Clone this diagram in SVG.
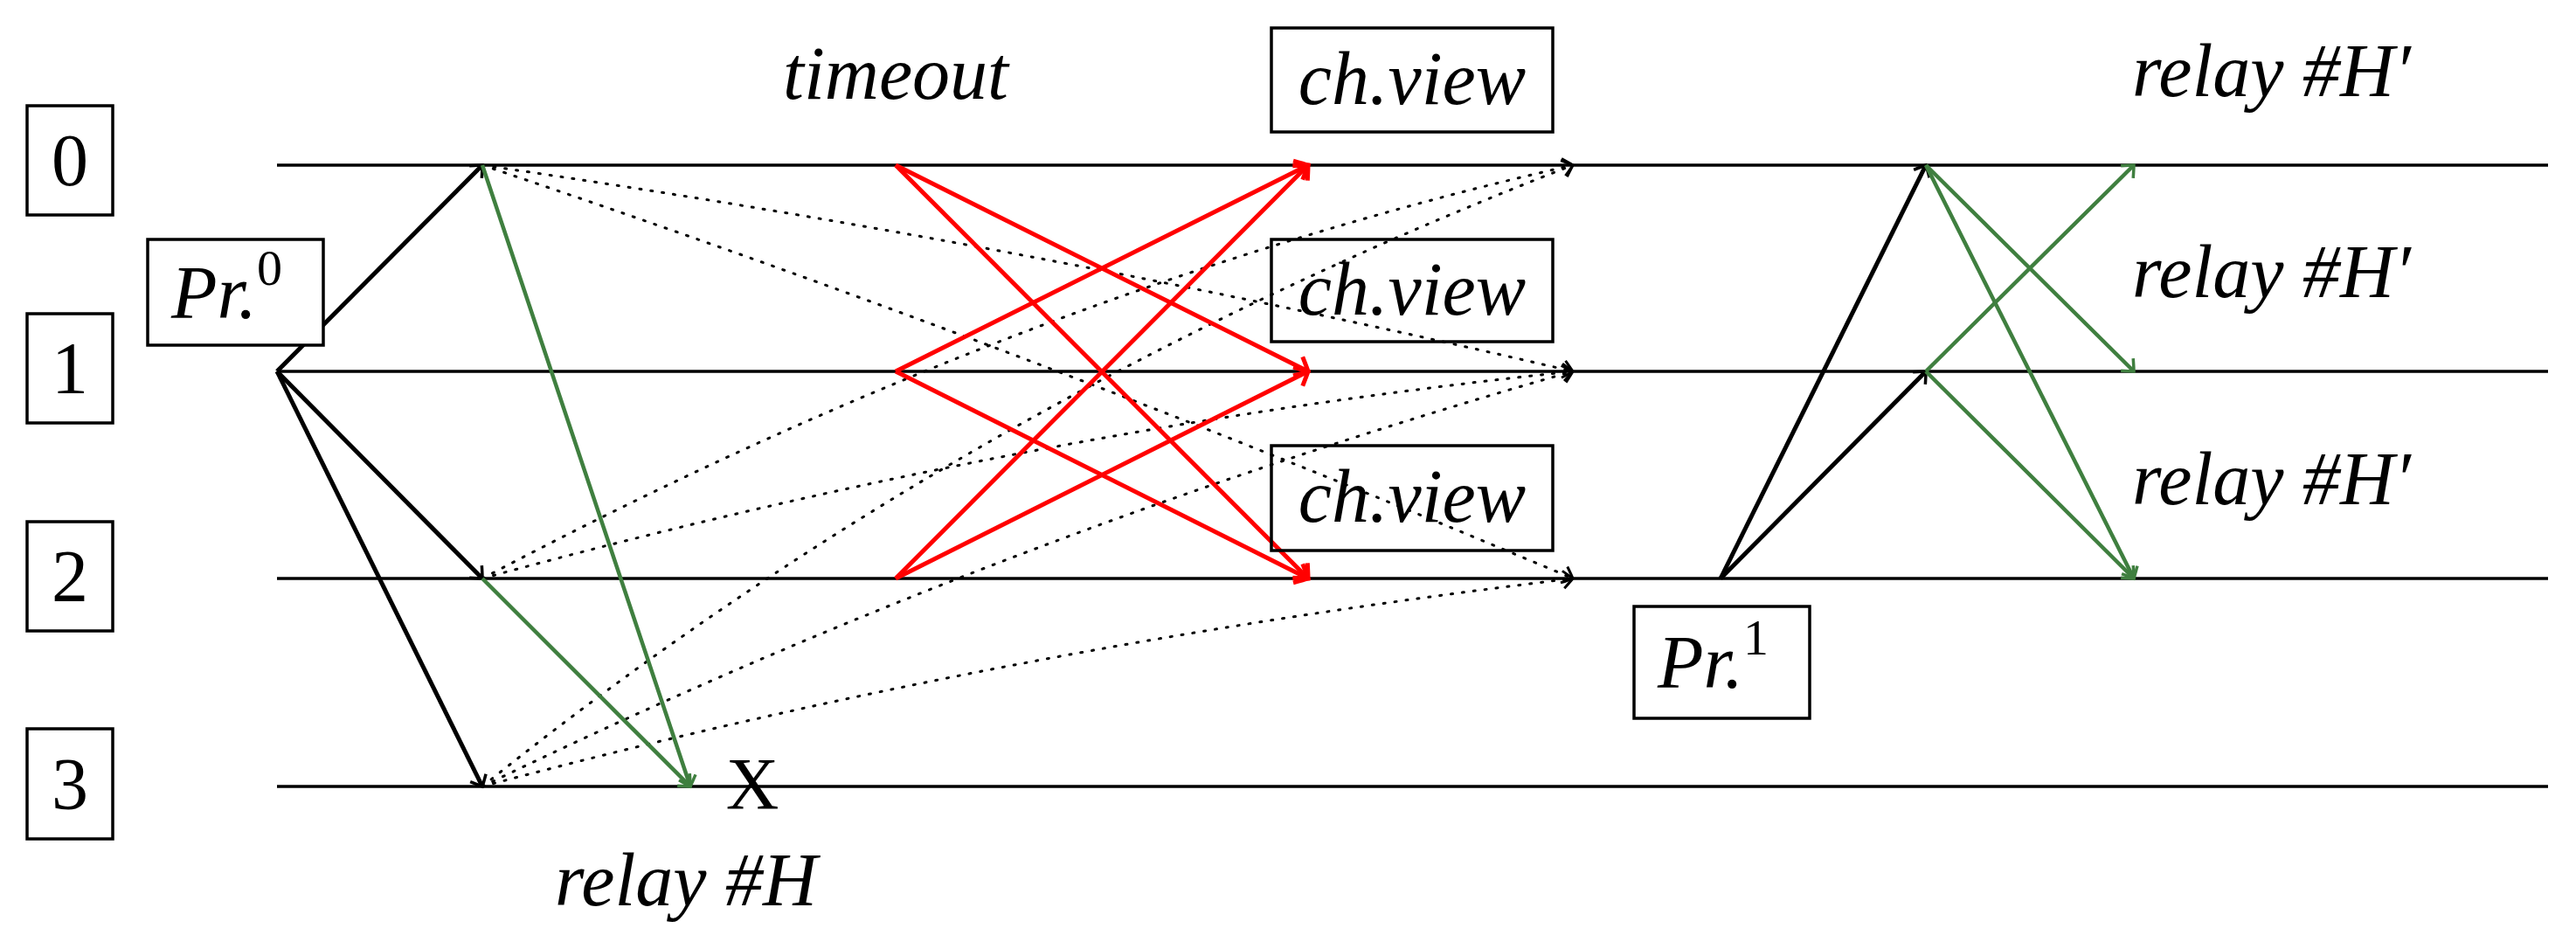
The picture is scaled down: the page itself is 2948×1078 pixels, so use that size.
<svg xmlns="http://www.w3.org/2000/svg" width="2948" height="1078" viewBox="0 0 2948 1078">
<style>
.ln{stroke:#000;stroke-width:3.5;fill:none}
.bx{fill:#fff;stroke:#000;stroke-width:3.5}
.t{font-family:"Liberation Serif","DejaVu Serif",serif;font-size:86px;font-style:italic;fill:#000}
.n{font-family:"Liberation Serif","DejaVu Serif",serif;font-size:84px;fill:#000}
.bk{stroke:#000;stroke-width:5;fill:none;marker-end:url(#ab)}
.gr{stroke:#3f7f3f;stroke-width:4.5;fill:none;marker-end:url(#ag)}
.rd{stroke:#ff0000;stroke-width:5;fill:none;marker-end:url(#ar)}
.dt{stroke:#000;stroke-width:3;stroke-dasharray:2 11;stroke-linecap:round;fill:none;marker-end:url(#ad)}
</style>
<defs>
<marker id="ab" viewBox="-14 -14 28 28" markerWidth="28" markerHeight="28" refX="0" refY="0" orient="auto" markerUnits="userSpaceOnUse"><path d="M-11,-10 Q-3,-3 0,0 Q-3,3 -11,10" fill="none" stroke="#000" stroke-width="3.5"/></marker>
<marker id="ag" viewBox="-14 -14 28 28" markerWidth="28" markerHeight="28" refX="0" refY="0" orient="auto" markerUnits="userSpaceOnUse"><path d="M-11,-10 Q-3,-3 0,0 Q-3,3 -11,10" fill="none" stroke="#3f7f3f" stroke-width="3.5"/></marker>
<marker id="ar" viewBox="-16 -16 32 32" markerWidth="32" markerHeight="32" refX="0" refY="0" orient="auto" markerUnits="userSpaceOnUse"><path d="M-13,-12 Q-3,-3 0,0 Q-3,3 -13,12" fill="none" stroke="#ff0000" stroke-width="5"/></marker>
<marker id="ad" viewBox="-14 -14 28 28" markerWidth="28" markerHeight="28" refX="0" refY="0" orient="auto" markerUnits="userSpaceOnUse"><path d="M-11,-10 Q-3,-3 0,0 Q-3,3 -11,10" fill="none" stroke="#000" stroke-width="3"/></marker>
</defs>
<g id="timelines">
<line class="ln" x1="317" y1="189" x2="2916" y2="189"/>
<line class="ln" x1="317" y1="425" x2="2916" y2="425"/>
<line class="ln" x1="317" y1="662" x2="2916" y2="662"/>
<line class="ln" x1="317" y1="900" x2="2916" y2="900"/>
</g>
<g id="node0"><rect class="bx" x="31" y="121" width="98" height="125"/><text class="n" x="80" y="212" text-anchor="middle">0</text></g>
<g id="node1"><rect class="bx" x="31" y="359" width="98" height="125"/><text class="n" x="80" y="450" text-anchor="middle">1</text></g>
<g id="node2"><rect class="bx" x="31" y="597" width="98" height="125"/><text class="n" x="80" y="688" text-anchor="middle">2</text></g>
<g id="node3"><rect class="bx" x="31" y="834" width="98" height="126"/><text class="n" x="80" y="926" text-anchor="middle">3</text></g>
<g id="connectors">
<path class="dt" d="M552,189 Q1180,280 1800,425"/>
<path class="dt" d="M552,189 Q1180,400 1800,662"/>
<path class="dt" d="M552,662 Q1180,330 1800,189"/>
<path class="dt" d="M552,662 Q1180,490 1800,425"/>
<path class="dt" d="M552,900 Q1100,460 1800,189"/>
<path class="dt" d="M552,900 Q1150,610 1800,425"/>
<path class="dt" d="M552,900 Q1150,740 1800,662"/>
<line class="bk" x1="317" y1="425" x2="552" y2="189"/>
<line class="bk" x1="317" y1="425" x2="552" y2="662"/>
<line class="bk" x1="317" y1="425" x2="552" y2="900"/>
<line class="gr" x1="552" y1="189" x2="790" y2="900"/>
<line class="gr" x1="552" y1="662" x2="790" y2="900"/>
<line class="rd" x1="1025" y1="189" x2="1497" y2="425"/>
<line class="rd" x1="1025" y1="189" x2="1497" y2="662"/>
<line class="rd" x1="1025" y1="425" x2="1497" y2="189"/>
<line class="rd" x1="1025" y1="425" x2="1497" y2="662"/>
<line class="rd" x1="1025" y1="662" x2="1497" y2="189"/>
<line class="rd" x1="1025" y1="662" x2="1497" y2="425"/>
<line class="bk" x1="1969" y1="662" x2="2204" y2="189"/>
<line class="bk" x1="1969" y1="662" x2="2204" y2="425"/>
<line class="gr" x1="2204" y1="189" x2="2442" y2="425"/>
<line class="gr" x1="2204" y1="189" x2="2442" y2="662"/>
<line class="gr" x1="2204" y1="425" x2="2442" y2="189"/>
<line class="gr" x1="2204" y1="425" x2="2442" y2="662"/>
</g>
<g id="pr0"><rect class="bx" x="169" y="274" width="201" height="121"/><text class="t" x="196" y="364">Pr.<tspan font-size="58" dy="-38" font-style="normal">0</tspan></text></g>
<g id="pr1"><rect class="bx" x="1870" y="694" width="201" height="128"/><text class="t" x="1897" y="787">Pr.<tspan font-size="58" dy="-38" font-style="normal">1</tspan></text></g>
<g id="chview0"><rect class="bx" x="1455" y="32" width="322" height="119"/><text class="t" x="1616" y="119" text-anchor="middle">ch.view</text></g>
<g id="chview1"><rect x="1455" y="274" width="322" height="117" fill="none" stroke="#000" stroke-width="3.5"/><text class="t" x="1616" y="360" text-anchor="middle">ch.view</text></g>
<g id="chview2"><rect x="1455" y="510" width="322" height="120" fill="none" stroke="#000" stroke-width="3.5"/><text class="t" x="1616" y="597" text-anchor="middle">ch.view</text></g>
<g id="labels">
<text class="t" x="1025" y="113" text-anchor="middle">timeout</text>
<text class="n" x="861" y="926" text-anchor="middle" font-size="72">X</text>
<text class="t" x="785" y="1036" text-anchor="middle">relay #H</text>
<text class="t" x="2440" y="110">relay #H′</text>
<text class="t" x="2440" y="340">relay #H′</text>
<text class="t" x="2440" y="577">relay #H′</text>
</g>
</svg>
